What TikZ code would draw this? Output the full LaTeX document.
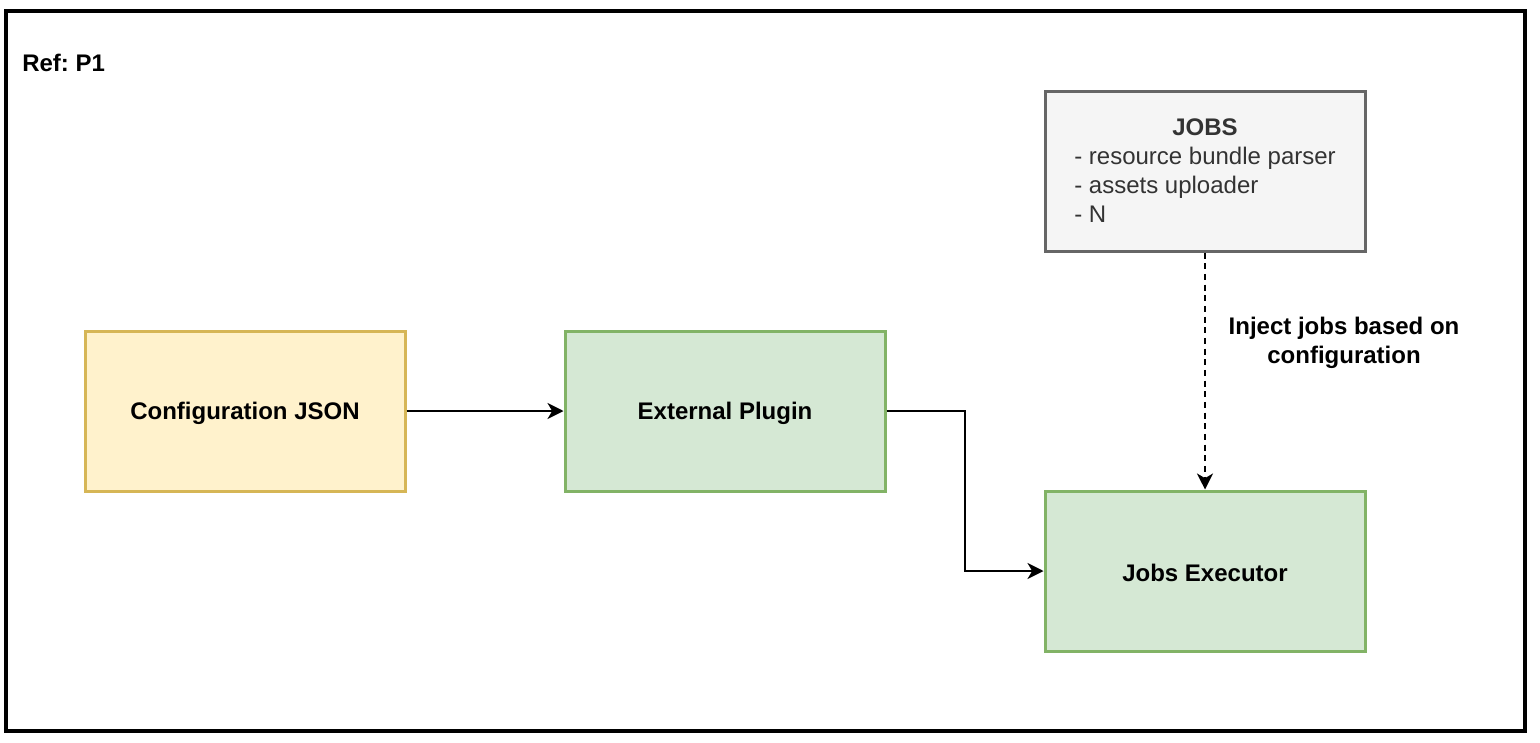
\documentclass[tikz,border=0pt]{standalone}
\usepackage{fontspec}
\setmainfont{Liberation Sans}
\usetikzlibrary{arrows.meta}
\frenchspacing
\definecolor{cfgfill}{HTML}{FFF2CC}
\definecolor{cfgline}{HTML}{D6B656}
\definecolor{grnfill}{HTML}{D5E8D4}
\definecolor{grnline}{HTML}{82B366}
\definecolor{gryfill}{HTML}{F5F5F5}
\definecolor{gryline}{HTML}{666666}
\definecolor{grytext}{HTML}{333333}
\newcommand{\lowtxt}[1]{\raisebox{-1.5pt}[\height][\depth]{#1}}
\tikzset{
  box/.style={draw, line width=2.25pt, minimum width=240pt, minimum height=120pt, inner sep=0pt, align=center, font=\fontsize{18}{21.6}\selectfont\bfseries},
  yellowbox/.style={box, fill=cfgfill, draw=cfgline},
  greenbox/.style={box, fill=grnfill, draw=grnline},
  graybox/.style={box, fill=gryfill, draw=gryline, text=grytext, font=\fontsize{18}{21.75}\selectfont},
  conn/.style={line width=1.5pt, -{Stealth[length=12pt, width=12pt, inset=3.5pt]}},
  lbl/.style={align=center, font=\fontsize{18}{21.75}\selectfont\bfseries, inner sep=0pt}
}
\begin{document}
\begin{tikzpicture}[x=0.75pt, y=-0.75pt]
\useasboundingbox (0,0) rectangle (1540,742);
\draw[line width=3pt] (5.5,11.5) rectangle (1525,730.5);
\node[anchor=west, inner sep=0pt, font=\fontsize{18}{21.6}\selectfont\bfseries] (ref) at (22,63) {Ref: P1};
\node[yellowbox] (cfg) at (245,411) {\lowtxt{Configuration JSON}};
\node[greenbox] (ext) at (725,411) {\lowtxt{External Plugin}};
\node[greenbox] (exe) at (1205,571) {\lowtxt{Jobs Executor}};
\node[graybox] (jobs) at (1205,171) {\lowtxt{\begin{tabular}{@{}l@{}}\multicolumn{1}{@{}c@{}}{\bfseries JOBS}\\- resource bundle parser\\- assets uploader\\- N\end{tabular}}};
\coordinate (bend) at (965,411);
\draw[conn] (cfg.east) -- (ext.west);
\draw[conn] (ext.east) -- (bend) |- (exe.west);
\draw[conn, dashed, dash pattern=on 4.5pt off 3.5pt] (jobs.south) -- (exe.north);
\node[lbl] (inj) at (1344,342.5) {Inject jobs based on\\configuration};
\end{tikzpicture}
\end{document}
